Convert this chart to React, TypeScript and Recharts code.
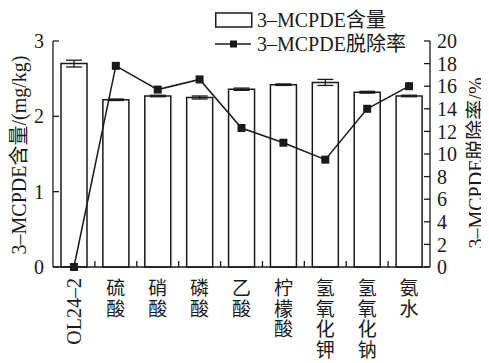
import React from "react";
import {
  ComposedChart,
  Bar,
  Line,
  XAxis,
  YAxis,
  ErrorBar,
  Legend,
} from "recharts";

const categories = ["OL24-2", "硫酸", "硝酸", "磷酸", "乙酸", "柠檬酸", "氢氧化钾", "氢氧化钠", "氨水"];
const contentValues = [2.7, 2.22, 2.27, 2.25, 2.36, 2.42, 2.45, 2.32, 2.27];
const contentErrors = [0.045, 0.01, 0.01, 0.02, 0.015, 0.01, 0.04, 0.012, 0.01];
const removalRates = [0, 17.8, 15.7, 16.6, 12.3, 11.0, 9.5, 14.0, 16.0];
const leftTicks = [0, 1, 2, 3];
const rightTicks = [0, 2, 4, 6, 8, 10, 12, 14, 16, 18, 20];
const seriesNames = ["3–MCPDE含量", "3–MCPDE脱除率"];
const leftLabel = "3–MCPDE含量/(mg/kg)";
const rightLabel = "3–MCPDE脱除率/%";

const data = categories.map((name, i) => ({
  name,
  content: contentValues[i],
  err: contentErrors[i],
  rate: removalRates[i],
}));

const FONT = "'Liberation Serif', 'Times New Roman', 'Noto Sans CJK SC', serif";
const INK = "#1a1a1a";

const Square = (props: any) => {
  const { cx, cy } = props;
  if (cx == null || cy == null) return null;
  return <rect x={cx - 4} y={cy - 4} width={8} height={8} fill={INK} />;
};

const CategoryTick = (props: any) => {
  const { x, y, payload, index } = props;
  const half = payload && payload.offset ? payload.offset : 20.9;
  const label: string = payload.value;
  const isLatin = /^[A-Za-z0-9\-]+$/.test(label);
  return (
    <g>
      {index < categories.length - 1 && (
        <line x1={x + half} x2={x + half} y1={y} y2={y - 6} stroke={INK} strokeWidth={1.3} />
      )}
      {isLatin ? (
        <text
          x={x}
          y={y + 11}
          transform={`rotate(-90, ${x}, ${y + 11})`}
          textAnchor="end"
          dominantBaseline="central"
          fontFamily={FONT}
          fontSize={20}
          fill={INK}
        >
          {label.replace("-", "–")}
        </text>
      ) : (
        <text textAnchor="middle" fontFamily={FONT} fontSize={19} fill={INK}>
          {label.split("").map((ch, i) => (
            <tspan key={i} x={x} y={y + 28 + i * 20.5}>
              {ch}
            </tspan>
          ))}
        </text>
      )}
    </g>
  );
};

const LegendBox = () => (
  <div style={{ fontFamily: FONT, fontSize: 20, color: INK, lineHeight: "24px" }}>
    <div style={{ display: "flex", alignItems: "center", height: 24 }}>
      <svg width={38} height={24}>
        <rect x={0.75} y={5} width={36} height={14} fill="#fff" stroke={INK} strokeWidth={1.5} />
      </svg>
      <span style={{ marginLeft: 4 }}>{seriesNames[0]}</span>
    </div>
    <div style={{ display: "flex", alignItems: "center", height: 24 }}>
      <svg width={38} height={24}>
        <line x1={0} x2={36} y1={12} y2={12} stroke={INK} strokeWidth={1.5} />
        <rect x={15} y={8.5} width={7} height={7} fill={INK} />
      </svg>
      <span style={{ marginLeft: 4 }}>{seriesNames[1]}</span>
    </div>
  </div>
);

export default function App() {
  return (
    <ComposedChart
      width={481}
      height={355}
      data={data}
      margin={{ top: 33, right: 0, bottom: 0, left: 0 }}
      style={{ fontFamily: FONT }}
    >
      <XAxis
        dataKey="name"
        interval={0}
        tickLine={false}
        tickSize={0}
        tickMargin={0}
        height={96}
        axisLine={{ stroke: INK, strokeWidth: 1.3 }}
        tick={<CategoryTick />}
      />
      <YAxis
        yAxisId="left"
        orientation="left"
        width={45}
        domain={[0, 3]}
        ticks={leftTicks}
        interval={0}
        tickSize={-6}
        tickMargin={15}
        axisLine={{ stroke: INK, strokeWidth: 1.3 }}
        tickLine={{ stroke: INK, strokeWidth: 1.3 }}
        tick={{ fill: INK, fontSize: 20, fontFamily: FONT }}
        label={{
          content: () => (
            <text
              x={11}
              y={147}
              transform="rotate(-90, 11, 147)"
              textAnchor="middle"
              dominantBaseline="central"
              fontFamily={FONT}
              fontSize={20}
              fill={INK}
            >
              {leftLabel}
            </text>
          ),
        }}
      />
      <YAxis
        yAxisId="right"
        orientation="right"
        width={59}
        domain={[0, 20]}
        ticks={rightTicks}
        interval={0}
        tickSize={-6}
        tickMargin={13}
        axisLine={{ stroke: INK, strokeWidth: 1.3 }}
        tickLine={{ stroke: INK, strokeWidth: 1.3 }}
        tick={{ fill: INK, fontSize: 20, fontFamily: FONT }}
        label={{
          content: () => (
            <text
              x={468}
              y={155}
              transform="rotate(-90, 468, 155)"
              textAnchor="middle"
              dominantBaseline="central"
              fontFamily={FONT}
              fontSize={20}
              fill={INK}
            >
              {rightLabel}
            </text>
          ),
        }}
      />
      <Legend
        layout="vertical"
        align="center"
        verticalAlign="middle"
        content={<LegendBox />}
        wrapperStyle={{ top: 0, left: 207, width: 220, height: 48 }}
      />
      <Bar
        yAxisId="left"
        dataKey="content"
        name={seriesNames[0]}
        barSize={26}
        fill="#fff"
        stroke={INK}
        strokeWidth={1.5}
        isAnimationActive={false}
      >
        <ErrorBar dataKey="err" width={8} stroke={INK} strokeWidth={1.3} />
      </Bar>
      <Line
        yAxisId="right"
        dataKey="rate"
        name={seriesNames[1]}
        stroke={INK}
        strokeWidth={1.5}
        dot={<Square />}
        activeDot={false}
        isAnimationActive={false}
      />
    </ComposedChart>
  );
}
